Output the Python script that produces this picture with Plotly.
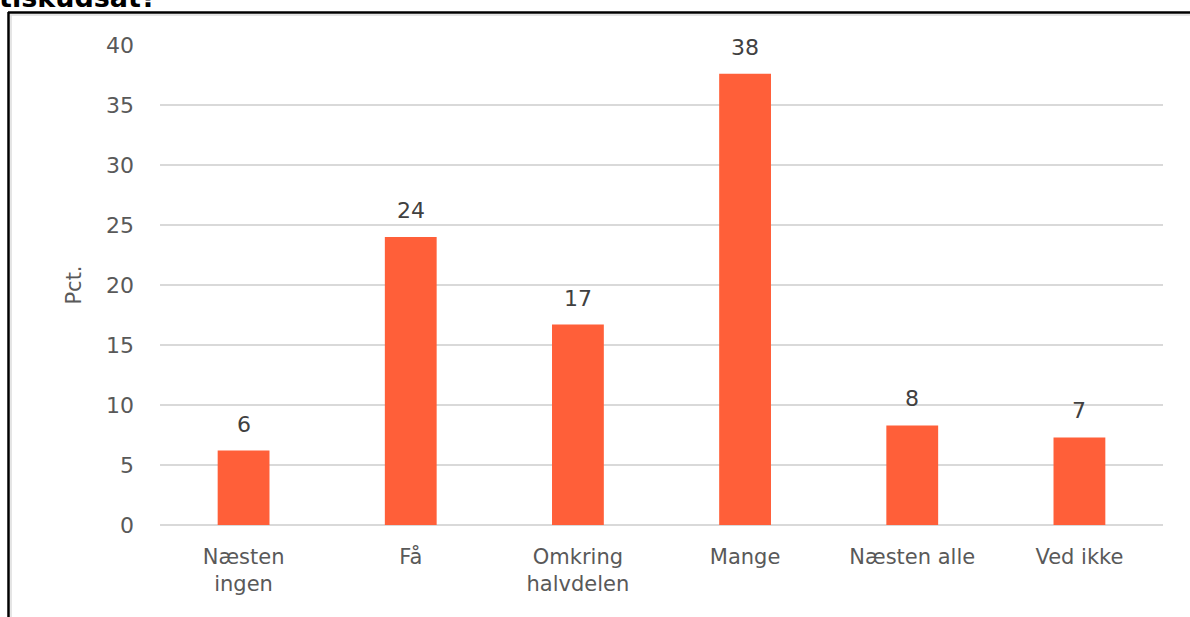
import plotly.graph_objects as go

categories = ["Næsten<br>ingen", "Få", "Omkring<br>halvdelen", "Mange", "Næsten alle", "Ved ikke"]
values = [6.2, 24.0, 16.7, 37.6, 8.3, 7.3]
labels = ["6", "24", "17", "38", "8", "7"]
y_ticks = [0, 5, 10, 15, 20, 25, 30, 35, 40]

FONT = "DejaVu Sans"
fig = go.Figure()
fig.add_trace(go.Bar(
    x=categories, y=values,
    marker=dict(color="#FF5F39", line=dict(width=0)),
    width=0.31,
    hoverinfo="skip",
))

for c, v, t in zip(categories, values, labels):
    fig.add_annotation(x=c, y=v, text=t, showarrow=False, xref="x", yref="y",
                       yanchor="bottom", yshift=12,
                       font=dict(family=FONT, size=22, color="#404040"))

W, H = 1190, 617
ml, mr, mt, mb = 160, 27, 45, 92
pw, ph = W - ml - mr, H - mt - mb

def px(x):
    return (x - ml) / pw

def py(y):
    return (H - mb - y) / ph

# outer frame (top and left edges visible)
fig.add_shape(type="line", xref="paper", yref="paper", x0=px(8), x1=px(1195), y0=py(12.5), y1=py(12.5),
              line=dict(color="#000000", width=2.5))
fig.add_shape(type="line", xref="paper", yref="paper", x0=px(8.5), x1=px(8.5), y0=py(12), y1=py(625),
              line=dict(color="#000000", width=2.5))
fig.add_shape(type="line", xref="paper", yref="paper", x0=px(11), x1=px(11), y0=py(15), y1=py(625),
              line=dict(color="#dddddd", width=1.5))
fig.add_shape(type="line", xref="paper", yref="paper", x0=px(10), x1=px(1195), y0=py(15), y1=py(15),
              line=dict(color="#dddddd", width=1.5))

# cut-off title at top
fig.add_annotation(text="<b>tiskudsat?</b>", xref="paper", yref="paper", x=px(-3), y=py(15),
                   xanchor="left", yanchor="bottom", showarrow=False,
                   font=dict(family="DejaVu Sans", size=27, color="#000000"))

fig.update_layout(
    width=W, height=H,
    margin=dict(l=ml, r=mr, t=mt, b=mb),
    paper_bgcolor="white", plot_bgcolor="white",
    showlegend=False,
    bargap=0.69,
    font=dict(family=FONT, size=21, color="#595959"),
    xaxis=dict(
        showline=False, showgrid=False, zeroline=False, ticks="",
        tickfont=dict(family=FONT, size=21, color="#595959"),
        ticklabelstandoff=17,
    ),
    yaxis=dict(
        range=[0, 40], tickvals=y_ticks,
        showgrid=True, gridcolor="#d9d9d9", gridwidth=1.5,
        zeroline=True, zerolinecolor="#d9d9d9", zerolinewidth=1.5,
        showline=False, ticks="",
        tickfont=dict(family=FONT, size=22, color="#595959"),
        ticklabelstandoff=25,
        title=dict(text="Pct.", font=dict(family=FONT, size=21, color="#595959"), standoff=18),
    ),
)

fig.write_html("out.html", config={"displayModeBar": False},
               post_script="document.body.style.margin='0';document.body.style.overflow='hidden';")
